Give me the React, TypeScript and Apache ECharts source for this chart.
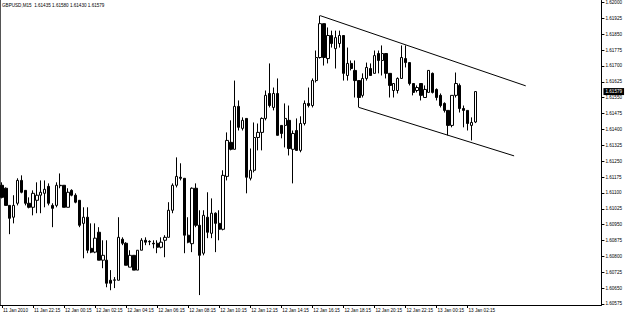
import React, { useEffect, useRef } from "react";
import * as echarts from "echarts";

const FONT = "'Liberation Sans', Arial, sans-serif";
const SYMBOL = "GBPUSD,M15";
const MONTH = "Jan";
const YEAR = "2010";
const START_DAY = 11;
const START_MINUTE = 20 * 60 + 15;
const STEP_MINUTES = 15;
const SLOT_COUNT = 155; // bars + empty right shift area

const opens = [
  1.61136, 1.61122, 1.61041, 1.60985, 1.61051, 1.61159, 1.61112, 1.61051, 1.61032, 1.61065,
  1.61089, 1.61098, 1.61131, 1.61041, 1.61041, 1.61136, 1.61136, 1.61032, 1.61112, 1.61089,
  1.61065, 1.60956, 1.60985, 1.60838, 1.60820, 1.60914, 1.60782, 1.60782, 1.60687, 1.60687,
  1.60687, 1.60881, 1.60862, 1.60749, 1.60805, 1.60735, 1.60829, 1.60876, 1.60871, 1.60862,
  1.60862, 1.60843, 1.60876, 1.60890, 1.61018, 1.61136, 1.61174, 1.61169, 1.60900, 1.60860,
  1.61122, 1.60947, 1.60815, 1.60985, 1.60909, 1.61004, 1.60956, 1.60928, 1.61178, 1.61339,
  1.61306, 1.61509, 1.61405, 1.61452, 1.61169, 1.61207, 1.61362, 1.61386, 1.61452, 1.61570,
  1.61504, 1.61570, 1.61419, 1.61419, 1.61443, 1.61306, 1.61395, 1.61301, 1.61428, 1.61523,
  1.61513, 1.61631, 1.61740, 1.61900, 1.61735, 1.61844, 1.61782, 1.61806, 1.61844, 1.61655,
  1.61712, 1.61679, 1.61631, 1.61561, 1.61641, 1.61688, 1.61665, 1.61759, 1.61726, 1.61759,
  1.61665, 1.61584, 1.61584, 1.61641, 1.61735, 1.61716, 1.61617, 1.61584, 1.61617, 1.61551,
  1.61575, 1.61665, 1.61589, 1.61561, 1.61523, 1.61490, 1.61419, 1.61561, 1.61608, 1.61499,
  1.61490, 1.61419, 1.61435,
];

const closes = [
  1.61079, 1.61041, 1.60980, 1.61041, 1.61159, 1.61103, 1.61051, 1.61032, 1.61098, 1.61089,
  1.61103, 1.61117, 1.61051, 1.61027, 1.61136, 1.61134, 1.61032, 1.61103, 1.61089, 1.61056,
  1.60947, 1.60985, 1.60829, 1.60820, 1.60886, 1.60782, 1.60805, 1.60673, 1.60673, 1.60689,
  1.60890, 1.60862, 1.60758, 1.60805, 1.60735, 1.60829, 1.60876, 1.60867, 1.60869, 1.60859,
  1.60843, 1.60867, 1.60890, 1.61018, 1.61136, 1.61178, 1.61169, 1.60900, 1.60867, 1.61122,
  1.60947, 1.60805, 1.60994, 1.60914, 1.61004, 1.60956, 1.60928, 1.61183, 1.61348, 1.61306,
  1.61509, 1.61410, 1.61443, 1.61174, 1.61207, 1.61362, 1.61386, 1.61452, 1.61561, 1.61513,
  1.61570, 1.61372, 1.61381, 1.61452, 1.61310, 1.61381, 1.61301, 1.61428, 1.61523, 1.61513,
  1.61631, 1.61740, 1.61900, 1.61740, 1.61844, 1.61806, 1.61834, 1.61844, 1.61665, 1.61712,
  1.61688, 1.61631, 1.61551, 1.61641, 1.61693, 1.61655, 1.61749, 1.61726, 1.61759, 1.61665,
  1.61608, 1.61617, 1.61641, 1.61740, 1.61716, 1.61617, 1.61575, 1.61598, 1.61561, 1.61589,
  1.61679, 1.61575, 1.61551, 1.61513, 1.61490, 1.61419, 1.61561, 1.61617, 1.61499, 1.61490,
  1.61428, 1.61433, 1.61579,
];

const lows = [
  1.61074, 1.61041, 1.60905, 1.60956, 1.61041, 1.61098, 1.61041, 1.61027, 1.60994, 1.61004,
  1.61004, 1.61032, 1.61041, 1.60938, 1.61032, 1.61122, 1.61032, 1.61032, 1.61084, 1.61051,
  1.60938, 1.60791, 1.60815, 1.60815, 1.60815, 1.60782, 1.60744, 1.60654, 1.60640, 1.60650,
  1.60687, 1.60853, 1.60758, 1.60749, 1.60735, 1.60735, 1.60829, 1.60853, 1.60853, 1.60838,
  1.60815, 1.60838, 1.60796, 1.60890, 1.61004, 1.61126, 1.61159, 1.60815, 1.60862, 1.60820,
  1.60938, 1.60617, 1.60805, 1.60886, 1.60886, 1.60820, 1.60876, 1.60923, 1.61159, 1.61301,
  1.61306, 1.61395, 1.61395, 1.61098, 1.61159, 1.61197, 1.61301, 1.61301, 1.61443, 1.61504,
  1.61490, 1.61372, 1.61358, 1.61315, 1.61277, 1.61145, 1.61301, 1.61292, 1.61419, 1.61504,
  1.61504, 1.61622, 1.61735, 1.61702, 1.61712, 1.61787, 1.61688, 1.61787, 1.61631, 1.61631,
  1.61679, 1.61551, 1.61504, 1.61551, 1.61631, 1.61655, 1.61665, 1.61665, 1.61655, 1.61641,
  1.61551, 1.61551, 1.61570, 1.61641, 1.61693, 1.61608, 1.61561, 1.61575, 1.61537, 1.61551,
  1.61575, 1.61570, 1.61537, 1.61504, 1.61480, 1.61372, 1.61410, 1.61551, 1.61480, 1.61410,
  1.61395, 1.61348, 1.61430,
];

const highs = [
  1.61150, 1.61126, 1.61041, 1.61089, 1.61169, 1.61183, 1.61112, 1.61079, 1.61112, 1.61150,
  1.61159, 1.61159, 1.61145, 1.61051, 1.61150, 1.61192, 1.61136, 1.61122, 1.61117, 1.61098,
  1.61065, 1.61032, 1.61032, 1.60956, 1.60956, 1.60938, 1.60876, 1.60876, 1.60735, 1.60702,
  1.60985, 1.60890, 1.60867, 1.60829, 1.60805, 1.60829, 1.60886, 1.60890, 1.60876, 1.60876,
  1.60876, 1.60890, 1.60900, 1.61056, 1.61145, 1.61268, 1.61240, 1.61169, 1.60985, 1.61126,
  1.61145, 1.61018, 1.61018, 1.61103, 1.61074, 1.61008, 1.61018, 1.61207, 1.61386, 1.61443,
  1.61631, 1.61537, 1.61457, 1.61452, 1.61310, 1.61433, 1.61428, 1.61457, 1.61584, 1.61712,
  1.61598, 1.61641, 1.61419, 1.61523, 1.61513, 1.61395, 1.61452, 1.61462, 1.61537, 1.61598,
  1.61641, 1.61773, 1.61938, 1.61900, 1.61882, 1.61867, 1.61867, 1.61867, 1.61844, 1.61787,
  1.61726, 1.61726, 1.61631, 1.61665, 1.61716, 1.61712, 1.61773, 1.61773, 1.61797, 1.61759,
  1.61665, 1.61617, 1.61646, 1.61797, 1.61797, 1.61716, 1.61617, 1.61608, 1.61617, 1.61608,
  1.61679, 1.61669, 1.61594, 1.61570, 1.61528, 1.61490, 1.61561, 1.61669, 1.61617, 1.61513,
  1.61490, 1.61457, 1.61580,
];

const yTicks = [
  1.60575, 1.6065, 1.60725, 1.608, 1.60875, 1.6095, 1.61025, 1.611, 1.61175, 1.6125,
  1.61325, 1.614, 1.61475, 1.6155, 1.61625, 1.617, 1.61775, 1.6185, 1.61925, 1.62,
];
const Y_MIN = 1.6057014;
const Y_MAX = 1.6200944;

// trendlines: [barIndex, price] anchor pairs
const trendlineStarts = [
  [82, 1.61938],
  [92, 1.61504],
];
const trendlineEnds = [
  [135, 1.61606],
  [132, 1.61275],
];

const pad2 = (n: number) => String(n).padStart(2, "0");
const categories = Array.from({ length: SLOT_COUNT }, (_, i) => {
  const t = START_MINUTE + i * STEP_MINUTES;
  const day = START_DAY + Math.floor(t / 1440);
  const m = t % 1440;
  if (i === 0) return `${day} ${MONTH} ${YEAR}`;
  return `${day} ${MONTH} ${pad2(Math.floor(m / 60))}:${pad2(m % 60)}`;
});

export default function App() {
  const ref = useRef<HTMLDivElement>(null);
  useEffect(() => {
    if (!ref.current) return;
    const chart = echarts.init(ref.current, undefined, { renderer: "svg" });
    const data = opens.map((o, i) => [o, closes[i], lows[i], highs[i]]);
    const last = opens.length - 1;
    const f = (v: number) => v.toFixed(5);
    const labelEvery = (i: number) => i % 8 === 0 && i < opens.length;
    chart.setOption({
      animation: false,
      backgroundColor: "#ffffff",
      title: {
        text: `${SYMBOL}  ${f(opens[last])} ${f(highs[last])} ${f(lows[last])} ${f(closes[last])}`,
        left: 2,
        top: 3,
        padding: 0,
        textStyle: { fontSize: 4.6, fontWeight: "normal", color: "#000", fontFamily: FONT },
      },
      grid: { left: -1, right: 20, top: 0, bottom: 13, containLabel: false },
      xAxis: {
        type: "category",
        data: categories,
        boundaryGap: true,
        axisLine: { show: true, lineStyle: { color: "#000", width: 1 } },
        axisTick: {
          show: true,
          interval: labelEvery,
          alignWithLabel: true,
          length: 3,
          lineStyle: { color: "#000" },
        },
        axisLabel: {
          interval: labelEvery,
          align: "left",
          margin: 3,
          padding: [0, 0, 0, 1],
          fontSize: 4.6,
          color: "#000",
          fontFamily: FONT,
        },
        splitLine: { show: false },
      },
      yAxis: {
        type: "value",
        position: "right",
        min: Y_MIN,
        max: Y_MAX,
        axisLine: { show: true, lineStyle: { color: "#000", width: 1 } },
        axisTick: { show: true, length: 3, customValues: yTicks, lineStyle: { color: "#000" } },
        axisLabel: {
          customValues: yTicks,
          formatter: (v: number) => v.toFixed(5),
          fontSize: 4.6,
          color: "#000",
          margin: 4,
          fontFamily: FONT,
        },
        splitLine: { show: false },
      },
      graphic: [
        { type: "rect", shape: { x: 0, y: 0, width: 1, height: 305 }, style: { fill: "#555" } },
      ],
      series: [
        {
          type: "candlestick",
          data,
          barWidth: 2.8,
          itemStyle: {
            color: "#ffffff",
            color0: "#000000",
            borderColor: "#000000",
            borderColor0: "#000000",
            borderWidth: 1,
          },
          markLine: {
            silent: true,
            symbol: ["none", "none"],
            lineStyle: { color: "#000", width: 1, type: "solid" },
            label: { show: false },
            data: [
              ...trendlineStarts.map((s, k) => [{ coord: s }, { coord: trendlineEnds[k] }]),
              [
                {
                  coord: [0, closes[last]],
                  lineStyle: { color: "rgba(0,0,0,0)", width: 0 },
                  label: {
                    show: true,
                    position: "end",
                    distance: 4,
                    formatter: () => f(closes[last]),
                    color: "#fff",
                    backgroundColor: "#000",
                    padding: [1, 2, 1, 2],
                    fontSize: 4.6,
                    fontFamily: FONT,
                  },
                },
                { coord: [SLOT_COUNT - 1, closes[last]] },
              ],
            ],
          },
        },
      ],
    });
    return () => chart.dispose();
  }, []);
  return (
    <div
      ref={ref}
      style={{ position: "fixed", left: 0, top: 0, width: 625, height: 318, background: "#fff" }}
    />
  );
}
